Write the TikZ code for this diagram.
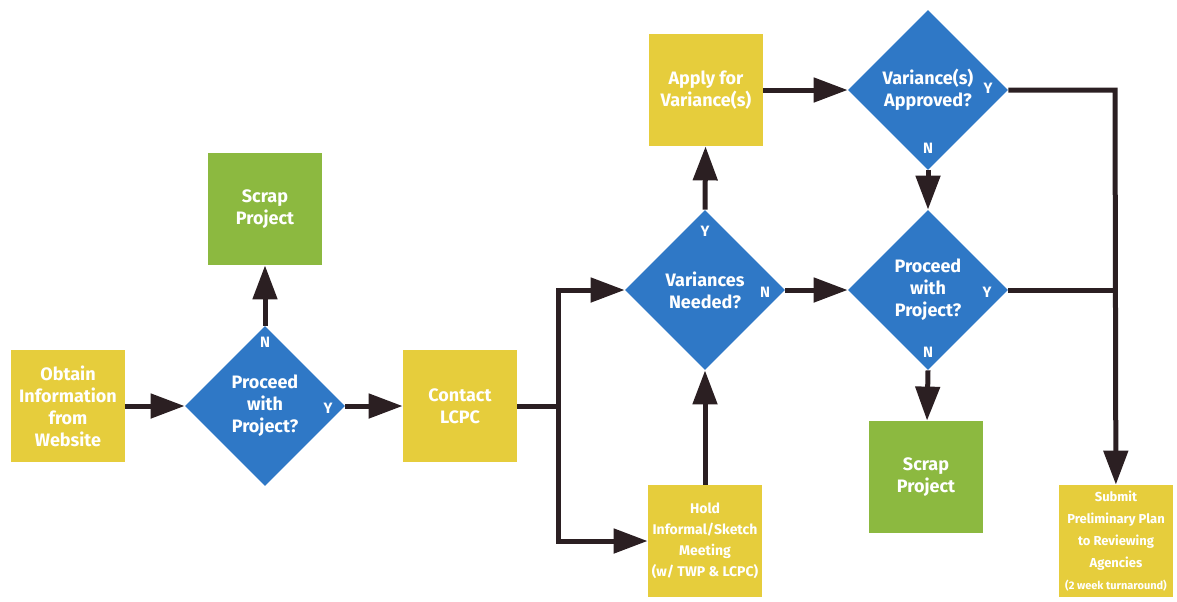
\documentclass[tikz,border=0pt]{standalone}
\usepackage{fontspec}
\setmainfont{Fira Sans}
\usepackage{tikz}
\usetikzlibrary{arrows.meta,positioning,shapes.geometric}

\definecolor{boxyellow}{HTML}{E6CD3C}
\definecolor{boxgreen}{HTML}{8CB940}
\definecolor{diablue}{HTML}{2F78C6}
\definecolor{linedark}{HTML}{2B1F22}

\begin{document}
\begin{tikzpicture}[x=0.5pt,y=-0.5pt,
    stepbox/.style={rectangle, fill=boxyellow, text=white, font=\bfseries\fontsize{9}{11}\selectfont,
        minimum width=57pt, minimum height=56pt, inner sep=0pt, align=center},
    scrapbox/.style={stepbox, fill=boxgreen},
    decision/.style={diamond, aspect=1, fill=diablue, text=white, font=\bfseries\fontsize{9}{11}\selectfont,
        minimum width=80pt, minimum height=80pt, inner sep=0pt, align=center},
    yn/.style={text=white, font=\bfseries\fontsize{7.5}{8}\selectfont, inner sep=0pt},
    flow/.style={draw=linedark, line width=2.5pt, -{Triangle[length=17pt,width=12pt]}},
    wire/.style={draw=linedark, line width=2.5pt}]
    \useasboundingbox (0,0) rectangle (1177,601);

    % Boxes
    \node[stepbox] (obtain) at (68,406) {Obtain\\Information\\from\\Website};
    \node[scrapbox] (scrap1) at (265,209) {Scrap\\Project};
    \node[stepbox] (contact) at (460,406) {Contact\\LCPC};
    \node[stepbox] (apply) at (706,90) {Apply for\\Variance(s)};
    \node[stepbox, font=\bfseries\fontsize{7}{10.5}\selectfont] (hold) at (705,541)
        {Hold\\Informal/Sketch\\Meeting\\(w/ TWP \& LCPC)};
    \node[scrapbox] (scrap2) at (926,477) {Scrap\\Project};
    \node[stepbox, font=\bfseries\fontsize{6.5}{11}\selectfont] (submit) at (1116,541)
        {Submit\\Preliminary Plan\\to Reviewing\\Agencies\\{\fontsize{5.5}{7}\selectfont(2 week turnaround)}};

    % Decisions
    \node[decision] (proceed1) at (265,406) {Proceed\\with\\Project?};
    \node[decision] (needed) at (705,290) {Variances\\Needed?};
    \node[decision] (approved) at (928,90) {Variance(s)\\Approved?};
    \node[decision] (proceed2) at (928,290) {Proceed\\with\\Project?};

    % Y / N marks
    \node[yn] (p1n) at (265,342) {N};
    \node[yn] (p1y) at (328,408) {Y};
    \node[yn] (vny) at (705,231) {Y};
    \node[yn] (vnn) at (765,292) {N};
    \node[yn] (vay) at (988,88) {Y};
    \node[yn] (van) at (928,148) {N};
    \node[yn] (p2y) at (987,292) {Y};
    \node[yn] (p2n) at (928,352) {N};

    % Connectors
    \coordinate (split) at (558,406);
    \coordinate (join) at (1115,90);
    \draw[flow] (obtain) -- (proceed1);
    \draw[flow] (proceed1.north) -- (scrap1);
    \draw[flow] (proceed1.east) -- (contact);
    \draw[wire] (contact) -- (split);
    \draw[flow] (split) |- (needed.west);
    \draw[flow] (split) |- (hold.west);
    \draw[flow] (hold) -- (needed.south);
    \draw[flow] (needed.north) -- (apply);
    \draw[flow] (apply) -- (approved.west);
    \draw[flow] (needed.east) -- (proceed2.west);
    \draw[flow] (approved.south) -- (proceed2.north);
    \draw[flow] (proceed2.south) -- (scrap2);
    \draw[flow] (approved.east) -- (join) -- (submit);
    \draw[wire] (proceed2.east) -- (proceed2.east -| join);
\end{tikzpicture}
\end{document}
